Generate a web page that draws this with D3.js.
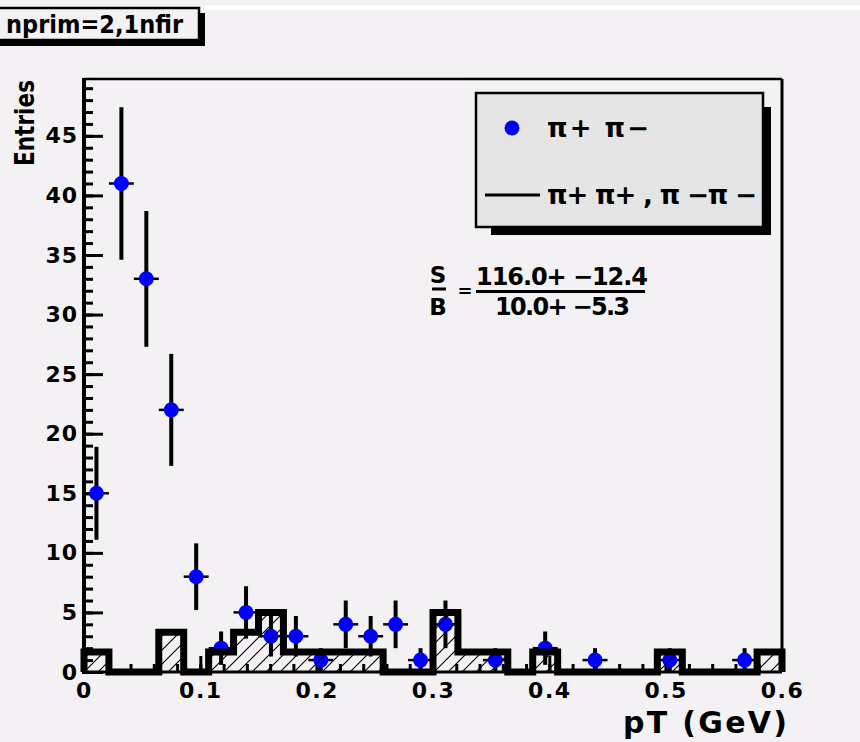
<!DOCTYPE html>
<html>
<head>
<meta charset="utf-8">
<script src="https://cdn.jsdelivr.net/npm/d3@7"></script>
<style>
  html, body { margin: 0; padding: 0; background: #f4f1f4; }
  svg { display: block; }
  text { font-family: "DejaVu Sans", "Liberation Sans", sans-serif; font-weight: bold; fill: #000; }
</style>
</head>
<body>
<svg id="chart" width="860" height="742"></svg>
<script>
// Histogram binning of pT (GeV)
const pTMin = 0;
const pTMax = 0.6;
const nBins = 28;

// pi+ pi- pairs: entries per bin and their errors
const signalCounts = [15, 41, 33, 22, 8, 2, 5, 3, 3, 1, 4, 3, 4, 1, 4, 0, 1, 0, 2, 0, 1, 0, 0, 1, 0, 0, 1, 0];
const signalErrors = [3.9, 6.4, 5.7, 4.7, 2.8, 1.4, 2.2, 1.7, 1.7, 1.0, 2.0, 1.7, 2.0, 1.0, 2.0, 0, 1.0, 0, 1.4, 0, 1.0, 0, 0, 1.0, 0, 0, 1.0, 0];

// like-sign pairs (pi+ pi+, pi- pi-): entries per bin
const bkgCounts = [1.67, 0, 0, 3.33, 0, 1.67, 3.33, 5, 1.67, 1.67, 1.67, 1.67, 0, 0, 5, 1.67, 1.67, 0, 1.67, 0, 0, 0, 0, 1.67, 0, 0, 0, 1.67];

// axis setup
const yMax = 49.77;
const xMajorTicks = [0, 0.1, 0.2, 0.3, 0.4, 0.5, 0.6];
const yMajorTicks = [0, 5, 10, 15, 20, 25, 30, 35, 40, 45];

// texts
const histTitle = "nprim=2,1nfir";
const xTitle = "pT (GeV)";
const yTitle = "Entries";
const legendLabels = ["\u03c0+ \u03c0\u2212", "\u03c0+ \u03c0+ , \u03c0 \u2212\u03c0 \u2212"];
const ratioNum = "116.0+ \u221212.4";
const ratioDen = "10.0+ \u22125.3";

const svg = d3.select("#chart");
const W = 860, H = 742;
const frame = { left: 84, right: 782, top: 79, bottom: 672 };

svg.append("rect").attr("width", W).attr("height", H).attr("fill", "#f4f1f4");
svg.append("rect").attr("x", 205).attr("y", 5).attr("width", W - 205).attr("height", 5).attr("fill", "#ffffff");

const x = d3.scaleLinear().domain([pTMin, pTMax]).range([frame.left, frame.right]);
const y = d3.scaleLinear().domain([0, yMax]).range([frame.bottom, frame.top]);
const binW = (pTMax - pTMin) / nBins;
const binLo = i => pTMin + i * binW;

// hatch pattern
const defs = svg.append("defs");
const pat = defs.append("pattern").attr("id", "hatch").attr("patternUnits", "userSpaceOnUse")
  .attr("width", 14).attr("height", 14);
pat.append("path").attr("d", "M-1,15 L15,-1 M-8,8 L8,-8 M6,22 L22,6")
  .attr("stroke", "#000").attr("stroke-width", 1.1);

// frame
const frameG = svg.append("g");
frameG.append("line").attr("x1", frame.left).attr("x2", frame.right).attr("y1", frame.top).attr("y2", frame.top)
  .attr("stroke", "#000").attr("stroke-width", 2.5);
frameG.append("line").attr("x1", frame.right).attr("x2", frame.right).attr("y1", frame.top).attr("y2", frame.bottom)
  .attr("stroke", "#000").attr("stroke-width", 3);
frameG.append("line").attr("x1", frame.left).attr("x2", frame.right).attr("y1", frame.bottom).attr("y2", frame.bottom)
  .attr("stroke", "#000").attr("stroke-width", 3);
frameG.append("line").attr("x1", frame.left).attr("x2", frame.left).attr("y1", frame.top - 1).attr("y2", frame.bottom + 2)
  .attr("stroke", "#000").attr("stroke-width", 4);

// y axis: major and minor ticks pointing inwards
const yMinor = d3.axisLeft(y).tickValues(d3.range(0, 50, 1)).tickSize(-9).tickFormat("");
const yMajor = d3.axisLeft(y).tickValues(yMajorTicks).tickSize(-19).tickPadding(6).tickFormat(d3.format("d"));
[yMinor, yMajor].forEach(ax => {
  const g = svg.append("g").attr("transform", `translate(${frame.left},0)`).call(ax);
  g.select(".domain").remove();
  g.selectAll(".tick line").attr("stroke", "#000").attr("stroke-width", 3);
  g.selectAll(".tick text").attr("font-size", 22).attr("letter-spacing", 1)
    .attr("font-family", "DejaVu Sans").attr("font-weight", "bold").attr("fill", "#000");
});

// x axis: ticks pointing up
const xMinor = d3.axisBottom(x).tickValues(d3.range(0, 30, 1).map(i => i * 0.02)).tickSize(-8).tickFormat("");
const xMajor = d3.axisBottom(x).tickValues(xMajorTicks).tickSize(-16).tickPadding(10)
  .tickFormat(d => d === 0 ? "0" : d3.format(".1f")(d));
[xMinor, xMajor].forEach(ax => {
  const g = svg.append("g").attr("transform", `translate(0,${frame.bottom})`).call(ax);
  g.select(".domain").remove();
  g.selectAll(".tick line").attr("stroke", "#000").attr("stroke-width", 3);
  g.selectAll(".tick text").attr("font-size", 22).attr("letter-spacing", 1.5)
    .attr("font-family", "DejaVu Sans").attr("font-weight", "bold").attr("fill", "#000");
});

// signal points with error bars
const sig = signalCounts.map((c, i) => ({ i, c, e: signalErrors[i] })).filter(d => d.c > 0);
const sg = svg.append("g");
sg.selectAll("line.ex").data(sig).enter().append("line")
  .attr("x1", d => x(binLo(d.i))).attr("x2", d => x(binLo(d.i + 1)))
  .attr("y1", d => y(d.c)).attr("y2", d => y(d.c))
  .attr("stroke", "#000").attr("stroke-width", 2.5);
sg.selectAll("line.ey").data(sig).enter().append("line")
  .attr("x1", d => x(binLo(d.i) + binW / 2)).attr("x2", d => x(binLo(d.i) + binW / 2))
  .attr("y1", d => y(d.c + d.e)).attr("y2", d => y(Math.max(0, d.c - d.e)))
  .attr("stroke", "#000").attr("stroke-width", 4);
sg.selectAll("circle").data(sig).enter().append("circle")
  .attr("cx", d => x(binLo(d.i) + binW / 2)).attr("cy", d => y(d.c))
  .attr("r", 7.5).attr("fill", "#0000ff");

// like-sign histogram: hatched area and thick outline
const stepPts = [[x(pTMin), y(0)]];
bkgCounts.forEach((v, i) => {
  stepPts.push([x(binLo(i)), y(v)]);
  stepPts.push([x(binLo(i + 1)), y(v)]);
});
stepPts.push([x(pTMax), y(0)]);
const line = d3.line();
svg.append("path").attr("d", line(stepPts) + "Z").attr("fill", "url(#hatch)").attr("stroke", "none");
svg.append("path").attr("d", line(stepPts)).attr("fill", "none")
  .attr("stroke", "#000").attr("stroke-width", 7).attr("stroke-linejoin", "miter");

// axis titles
svg.append("text").attr("x", 787).attr("y", 733).attr("text-anchor", "end")
  .attr("font-size", 30).attr("textLength", 164).attr("lengthAdjust", "spacing").text(xTitle);
svg.append("text").attr("transform", "translate(34,80) rotate(-90)").attr("text-anchor", "end")
  .attr("font-size", 27).attr("textLength", 86).attr("lengthAdjust", "spacingAndGlyphs").text(yTitle);

// title box
svg.append("rect").attr("x", -10).attr("y", 13).attr("width", 215).attr("height", 33).attr("fill", "#000");
svg.append("rect").attr("x", -15).attr("y", 8).attr("width", 214).attr("height", 32)
  .attr("fill", "#f4f1f4").attr("stroke", "#000").attr("stroke-width", 2.5);
svg.append("text").attr("x", 6).attr("y", 33).attr("font-size", 25)
  .attr("textLength", 177).attr("lengthAdjust", "spacingAndGlyphs").text(histTitle);

// legend
const lg = svg.append("g");
lg.append("rect").attr("x", 763).attr("y", 107).attr("width", 8).attr("height", 128).attr("fill", "#000");
lg.append("rect").attr("x", 491).attr("y", 227).attr("width", 280).attr("height", 8).attr("fill", "#000");
lg.append("rect").attr("x", 476).attr("y", 93).attr("width", 287).attr("height", 134)
  .attr("fill", "#e5e5e5").attr("stroke", "#000").attr("stroke-width", 2.5);
lg.append("circle").attr("cx", 512).attr("cy", 128).attr("r", 7.5).attr("fill", "#0000ff");
lg.append("line").attr("x1", 485).attr("x2", 540).attr("y1", 195).attr("y2", 195)
  .attr("stroke", "#000").attr("stroke-width", 3);
lg.append("text").attr("x", 547).attr("y", 137).attr("font-size", 26)
  .attr("textLength", 102).attr("lengthAdjust", "spacing").text(legendLabels[0]);
lg.append("text").attr("x", 547).attr("y", 204).attr("font-size", 26)
  .attr("textLength", 210).attr("lengthAdjust", "spacing").text(legendLabels[1]);

// S/B ratio
const rg = svg.append("g");
rg.append("text").attr("x", 438).attr("y", 283).attr("text-anchor", "middle").attr("font-size", 23).text("S");
rg.append("line").attr("x1", 432).attr("x2", 446).attr("y1", 289).attr("y2", 289).attr("stroke", "#000").attr("stroke-width", 3);
rg.append("text").attr("x", 438).attr("y", 315).attr("text-anchor", "middle").attr("font-size", 23).text("B");
rg.append("text").attr("x", 465).attr("y", 297).attr("text-anchor", "middle").attr("font-size", 18).text("=");
rg.append("text").attr("x", 476).attr("y", 285).attr("font-size", 24)
  .attr("textLength", 172).attr("lengthAdjust", "spacing").text(ratioNum);
rg.append("line").attr("x1", 476).attr("x2", 645).attr("y1", 291.5).attr("y2", 291.5).attr("stroke", "#000").attr("stroke-width", 3);
rg.append("text").attr("x", 495).attr("y", 315).attr("font-size", 24)
  .attr("textLength", 135).attr("lengthAdjust", "spacing").text(ratioDen);
</script>
</body>
</html>
